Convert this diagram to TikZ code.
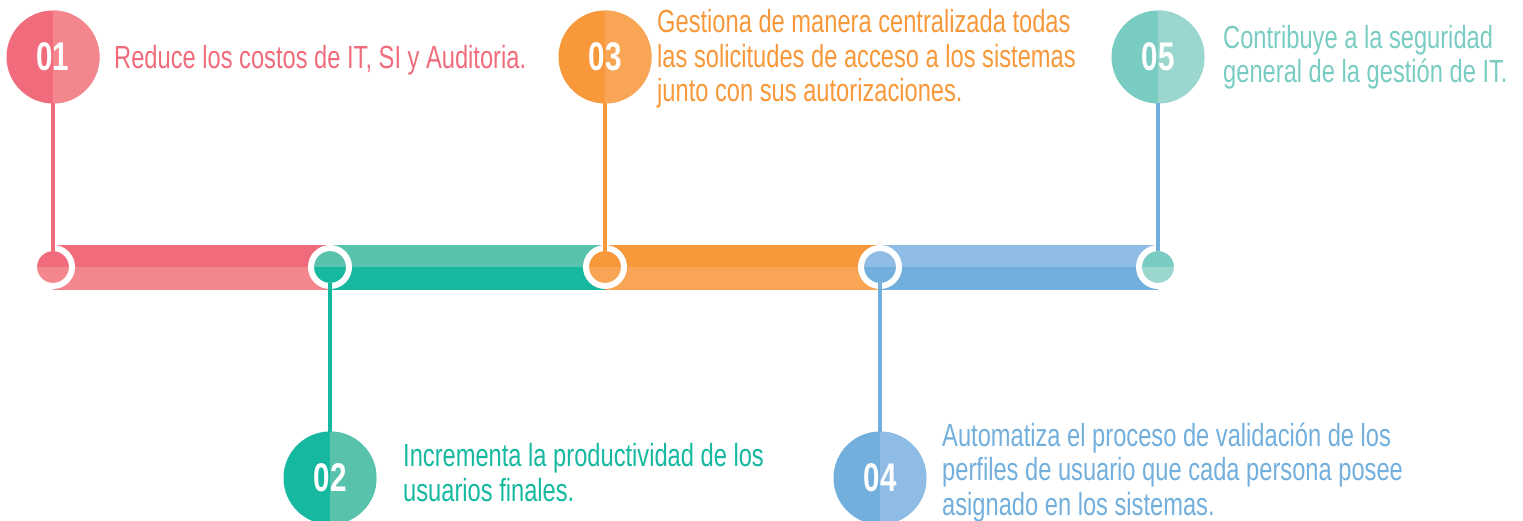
\documentclass[tikz,border=0pt]{standalone}
\usepackage{fontspec}
\setmainfont{Liberation Sans}[FakeStretch=0.74]
\newfontfamily\numfont{Liberation Sans}[FakeStretch=0.74]
\definecolor{pinkA}{HTML}{F06C7C}
\definecolor{pinkB}{HTML}{F4878E}
\definecolor{tealA}{HTML}{16B99F}
\definecolor{tealB}{HTML}{58C2AC}
\definecolor{orangeA}{HTML}{F7983A}
\definecolor{orangeB}{HTML}{F8A656}
\definecolor{blueA}{HTML}{72AFDD}
\definecolor{blueB}{HTML}{8EBCE5}
\definecolor{mintA}{HTML}{79CCC2}
\definecolor{mintB}{HTML}{9BD7CF}
\tikzset{
  bignum/.style 2 args={circle,minimum size=93pt,inner sep=0pt,outer sep=0pt,fill=#1,text=white,
    font=\numfont\bfseries\fontsize{40}{40}\selectfont,
    path picture={\fill[#2] (path picture bounding box.north) rectangle (path picture bounding box.south east);}},
  joint/.style 2 args={circle,minimum size=38pt,inner sep=0pt,outer sep=0pt,draw=white,line width=6pt,fill=#1,
    path picture={\fill[#2] (path picture bounding box.west) rectangle (path picture bounding box.south east);}},
  note/.style={anchor=base west,inner sep=0pt,align=left,text=#1,font=\fontsize{32}{34.5}\selectfont},
  link/.style={line width=4pt,draw=#1,shorten >=-3pt}
}
\begin{document}
\begin{tikzpicture}[x=1pt,y=-1pt]
\useasboundingbox (0,0) rectangle (1523,521);
\fill[pinkA] (53,245) rectangle (330,267);
\fill[pinkB] (53,267) rectangle (330,290);
\fill[tealB] (330,245) rectangle (605,267);
\fill[tealA] (330,267) rectangle (605,290);
\fill[orangeA] (605,245) rectangle (880,267);
\fill[orangeB] (605,267) rectangle (880,290);
\fill[blueB] (880,245) rectangle (1158,267);
\fill[blueA] (880,267) rectangle (1158,290);
\node[joint={pinkA}{pinkB}] (d1) at (53,267) {};
\node[joint={tealB}{tealA}] (d2) at (330,267) {};
\node[joint={orangeA}{orangeB}] (d3) at (605,267) {};
\node[joint={blueB}{blueA}] (d4) at (880,267) {};
\node[joint={mintA}{mintB}] (d5) at (1158,267) {};
\node[bignum={pinkA}{pinkB}] (n1) at (53,57) {01};
\node[bignum={tealA}{tealB}] (n2) at (330,478) {02};
\node[bignum={orangeA}{orangeB}] (n3) at (605,57) {03};
\node[bignum={blueA}{blueB}] (n4) at (880,478) {04};
\node[bignum={mintA}{mintB}] (n5) at (1158,57) {05};
\draw[link=pinkA] (n1) -- (d1);
\draw[link=tealA] (n2) -- (d2);
\draw[link=orangeA] (n3) -- (d3);
\draw[link=blueA] (n4) -- (d4);
\draw[link=blueA] (n5) -- (d5);
\node[note=pinkA] (t1) at (114,69) {Reduce los costos de IT, SI y Auditoria.};
\node[note=tealA] (t2) at (403,501) {Incrementa la productividad de los\\usuarios finales.};
\node[note=orangeA] (t3) at (657,102) {Gestiona de manera centralizada todas\\las solicitudes de acceso a los sistemas\\junto con sus autorizaciones.};
\node[note=blueA] (t4) at (942,515) {Automatiza el proceso de validación de los\\perfiles de usuario que cada persona posee\\asignado en los sistemas.};
\node[note=mintA] (t5) at (1223,83) {Contribuye a la seguridad\\general de la gestión de IT.};
\end{tikzpicture}
\end{document}
